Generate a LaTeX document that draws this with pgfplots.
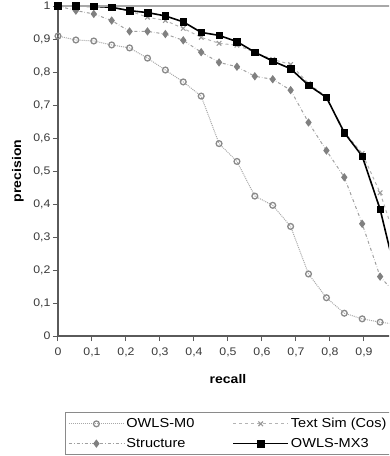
\documentclass[border=0pt]{standalone}
\usepackage{fontspec}
\setmainfont{Liberation Sans}[FakeStretch=1.12]
\usepackage{pgfplots}
\pgfplotsset{compat=1.18}
\definecolor{axisdark}{HTML}{5A5A5A}
\definecolor{bordergray}{HTML}{A8A8A8}
\definecolor{ticktext}{HTML}{3A3A3A}
\definecolor{mzero}{HTML}{8A8A8A}
\definecolor{mzeroline}{HTML}{A8A8A8}
\definecolor{tsim}{HTML}{9A9A9A}
\definecolor{tsimline}{HTML}{B4B4B4}
\definecolor{struct}{HTML}{808080}
\definecolor{structline}{HTML}{A0A0A0}
\begin{document}
\begin{tikzpicture}
\path[use as bounding box] (-58pt,-120pt) rectangle (331pt,336pt);
\clip (-58pt,-120pt) rectangle (331pt,336pt);
\begin{axis}[
  at={(0pt,0pt)}, anchor=south west,
  scale only axis, width=340pt, height=330pt,
  xmin=0, xmax=1, ymin=0, ymax=1,
  clip=false,
  axis x line*=bottom, axis y line*=left,
  axis line style={draw=axisdark, line width=1.6pt, -},
  tick align=outside,
  major tick length=5pt,
  tick style={draw=axisdark, line width=1pt},
  xtick={0,0.1,0.2,0.3,0.4,0.5,0.6,0.7,0.8,0.9},
  ytick={0,0.1,0.2,0.3,0.4,0.5,0.6,0.7,0.8,0.9,1},
  /pgf/number format/assume math mode=true,
  /pgf/number format/.cd, use comma, fixed, precision=1, /pgfplots/.cd,
  ticklabel style={font=\fontsize{11}{13}\selectfont, text=ticktext},
  xticklabel style={yshift=-3pt},
  yticklabel style={xshift=1pt},
  xlabel={\textbf{recall}},
  ylabel={\textbf{precision}},
  xlabel style={at={(axis description cs:0.5,0)}, anchor=base, yshift=-47pt, font=\fontsize{12.5}{14}\selectfont, text=black},
  ylabel style={at={(axis description cs:0,0.5)}, anchor=center, yshift=40pt, font=\fontsize{12.5}{14}\selectfont, text=black},
  legend columns=2,
  legend cell align=left,
  legend style={at={(axis description cs:0.0206,-0.2303)}, anchor=north west,
    draw=mzero, line width=0.8pt, inner xsep=3pt, inner ysep=4pt,
    font=\fontsize{13}{15}\selectfont,
    row sep=5pt,
    /tikz/every even column/.append style={column sep=36pt}},
  legend image code/.code={\draw[mark repeat=2, mark phase=2, #1] plot coordinates {(0pt,0pt) (27.5pt,0pt) (55pt,0pt)};},
]
\addplot[mzeroline, densely dotted, line width=1pt, mark=o, mark size=2.9pt, mark options={draw=mzero, line width=1.3pt, solid}] coordinates {
(0,0.909) (0.0526,0.897) (0.1053,0.894) (0.1579,0.882) (0.2105,0.873) (0.2632,0.842) (0.3158,0.806) (0.3684,0.770) (0.4211,0.727) (0.4737,0.583) (0.5263,0.529) (0.5789,0.424) (0.6316,0.396) (0.6842,0.332) (0.7368,0.188) (0.7895,0.116) (0.8421,0.069) (0.8947,0.052) (0.9474,0.042) (1,0.035)};
\addlegendentry{OWLS-M0}
\addplot[tsimline, dashed, line width=1pt, mark=x, mark size=3.2pt, mark options={draw=tsim, line width=1.1pt, solid}] coordinates {
(0,1) (0.0526,1) (0.1053,0.998) (0.1579,0.995) (0.2105,0.985) (0.2632,0.966) (0.3158,0.956) (0.3684,0.932) (0.4211,0.905) (0.4737,0.887) (0.5263,0.881) (0.5789,0.860) (0.6316,0.838) (0.6842,0.823) (0.7368,0.765) (0.7895,0.725) (0.8421,0.619) (0.8947,0.553) (0.9474,0.434) (1,0.27)};
\addlegendentry{Text Sim (Cos)}
\addplot[structline, dash dot, line width=1pt, mark=diamond*, mark size=3.4pt, mark options={draw=struct, fill=struct, solid}] coordinates {
(0,1) (0.0526,0.986) (0.1053,0.976) (0.1579,0.956) (0.2105,0.923) (0.2632,0.923) (0.3158,0.915) (0.3684,0.896) (0.4211,0.860) (0.4737,0.829) (0.5263,0.816) (0.5789,0.787) (0.6316,0.778) (0.6842,0.745) (0.7368,0.647) (0.7895,0.562) (0.8421,0.481) (0.8947,0.340) (0.9474,0.180) (1,0.12)};
\addlegendentry{Structure}
\addplot[black, line width=1.6pt, mark=square*, mark size=3.3pt, mark options={fill=black, line width=0.5pt}] coordinates {
(0,1) (0.0526,1) (0.1053,0.999) (0.1579,0.996) (0.2105,0.986) (0.2632,0.980) (0.3158,0.970) (0.3684,0.952) (0.4211,0.920) (0.4737,0.911) (0.5263,0.892) (0.5789,0.860) (0.6316,0.833) (0.6842,0.810) (0.7368,0.760) (0.7895,0.723) (0.8421,0.616) (0.8947,0.545) (0.9474,0.384) (1,0.16)};
\addlegendentry{OWLS-MX3}
\draw[bordergray, line width=1.2pt] (rel axis cs:0,1) -- (rel axis cs:1,1);
\end{axis}
\end{tikzpicture}
\end{document}
